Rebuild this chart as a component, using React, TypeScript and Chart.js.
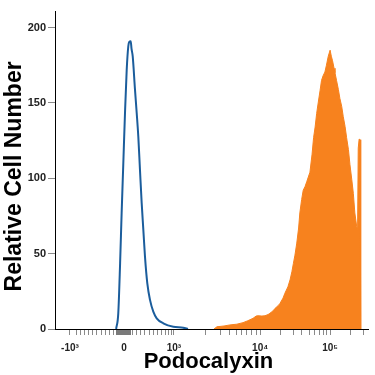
import React, { useEffect, useRef } from "react";
import { Chart, registerables } from "chart.js";

Chart.register(...registerables);

// Y axis (relative cell number)
const yTickValues = [0, 50, 100, 150, 200];
const yMax = 211;

// X axis: display channels (0-1024) of a biexponential (logicle) scale
const xMajorTicks = [49, 226, 389, 671, 900];
const xMajorLabels = ["-10³", "0", "10³", "10⁴", "10⁵"];
const xMinorTicks = [
  69, 82, 96, 110, 124, 137, 151, 165, 179, 192,
  254, 268, 281, 294, 308, 321, 335, 348, 360, 370, 380,
  491, 540, 570, 594, 611, 627, 644, 658,
  739, 780, 808, 831, 849, 864, 877, 889,
  968, 1009,
];
const xZeroBandTicks = [
  200, 202, 204, 206, 208, 210, 212, 214, 216, 218, 220, 222, 224,
  228, 230, 232, 234, 236, 238, 240, 242, 244, 246, 248,
];

// Isotype control (blue outline)
const isotypeX = [
  200, 207, 213, 218, 223.5, 229, 234.6, 239.8, 243, 247.7, 250.3, 254.2,
  261.7, 267.3, 272.5, 278, 283.6, 289, 294.4, 302, 310.8, 321.6, 332.7,
  354.3, 387, 419.7, 435,
];
const isotypeY = [
  0, 10.4, 43.6, 76.9, 110, 143.3, 172, 187.6, 190.5, 190.9, 186, 181,
  158.8, 143.3, 127.8, 105.6, 83.5, 65.8, 48, 30.3, 19.3, 11.5, 7.1,
  3.8, 1.5, 0.9, 0,
];

// Podocalyxin stained (orange filled)
const podoX = [
  520, 530, 553, 572, 595, 615, 631, 648, 658, 664, 677, 687, 697, 703,
  713, 720, 730, 736, 746, 752, 762, 769, 775, 780, 785, 791, 797, 801,
  807, 812, 818, 824, 834, 841, 846, 851, 856, 861, 867, 872, 877, 883,
  888, 894, 900, 904, 908, 913, 916, 921, 927, 932, 938, 943, 949, 954,
  960, 965, 971, 976, 981, 987, 990, 992, 995, 998, 999.8, 1000.5,
];
const podoY = [
  0, 1.5, 2, 2.7, 3.2, 4.2, 5.5, 7.1, 8.6, 8.8, 8.6, 8.8, 9.6, 10.4,
  12, 13.7, 15.5, 17, 20.5, 23.7, 28, 32.6, 38, 43.6, 49, 57, 67, 77,
  86, 92, 94.5, 98, 104, 116, 127, 134, 143, 150, 158, 165, 168, 170.5,
  175, 181, 185, 181, 178, 173, 170, 165, 159, 153, 147.7, 141, 134.4, 127,
  119, 109, 99, 90, 77, 68, 66, 120, 126, 125.6, 120, 0,
];

const FONT = "'Liberation Sans', Arial, sans-serif";

export default function App() {
  const ref = useRef<HTMLCanvasElement | null>(null);

  useEffect(() => {
    if (!ref.current) return;
    const allXTicks = [...xMajorTicks, ...xMinorTicks, ...xZeroBandTicks].sort(
      (a, b) => a - b
    );
    const chart = new Chart(ref.current, {
      type: "line",
      data: {
        datasets: [
          {
            label: "Podocalyxin",
            data: podoX.map((x, i) => ({ x, y: podoY[i] })),
            borderColor: "#f7821e",
            backgroundColor: "#f7821e",
            borderWidth: 1,
            fill: "origin",
            pointRadius: 0,
            tension: 0,
          },
          {
            label: "Isotype",
            data: isotypeX.map((x, i) => ({ x, y: isotypeY[i] })),
            borderColor: "#1b5d9c",
            borderWidth: 2,
            fill: false,
            pointRadius: 0,
            cubicInterpolationMode: "monotone",
          },
        ],
      },
      options: {
        responsive: false,
        animation: false,
        devicePixelRatio: 1,
        layout: { padding: { top: 11, right: 7, left: 0, bottom: 0 } },
        plugins: { legend: { display: false }, tooltip: { enabled: false } },
        scales: {
          x: {
            type: "linear",
            min: 0,
            max: 1024,
            afterBuildTicks: (scale: any) => {
              scale.ticks = allXTicks.map((value) => ({ value }));
            },
            afterFit: (scale: any) => {
              scale.height = 46;
            },
            border: { display: true, color: "#000", width: 1 },
            grid: {
              drawOnChartArea: false,
              drawTicks: true,
              tickLength: 6,
              tickColor: (ctx: any) =>
                xZeroBandTicks.includes(ctx.tick?.value) ? "#7a7a7a" : "#8a8a8a",
              tickWidth: 1,
            },
            ticks: {
              autoSkip: false,
              maxRotation: 0,
              padding: 7,
              color: "#222",
              font: { family: FONT, size: 10, weight: "bold" },
              callback: (value: any) => {
                const idx = xMajorTicks.indexOf(Number(value));
                return idx >= 0 ? xMajorLabels[idx] : "";
              },
            },
            title: {
              display: true,
              text: "Podocalyxin ",
              color: "#000",
              font: { family: FONT, size: 22, weight: "bold" },
              padding: { top: 0, bottom: 0 },
            },
          },
          y: {
            type: "linear",
            min: 0,
            max: yMax,
            afterBuildTicks: (scale: any) => {
              scale.ticks = yTickValues.map((value) => ({ value }));
            },
            afterFit: (scale: any) => {
              scale.width = 55;
            },
            border: { display: true, color: "#000", width: 1 },
            grid: {
              drawOnChartArea: false,
              drawTicks: true,
              tickLength: 7,
              tickColor: "#8a8a8a",
            },
            ticks: {
              padding: 2,
              color: "#222",
              font: { family: FONT, size: 11, weight: "bold" },
            },
            title: {
              display: true,
              text: "Relative Cell Number  ",
              color: "#000",
              font: { family: FONT, size: 23, weight: "bold" },
              padding: { top: 1, bottom: 0 },
            },
          },
        },
      },
    } as any);
    return () => chart.destroy();
  }, []);

  return (
    <div style={{ position: "absolute", left: 0, top: 0, width: 375, height: 375, background: "#fff" }}>
      <canvas ref={ref} width={375} height={375} />
    </div>
  );
}
